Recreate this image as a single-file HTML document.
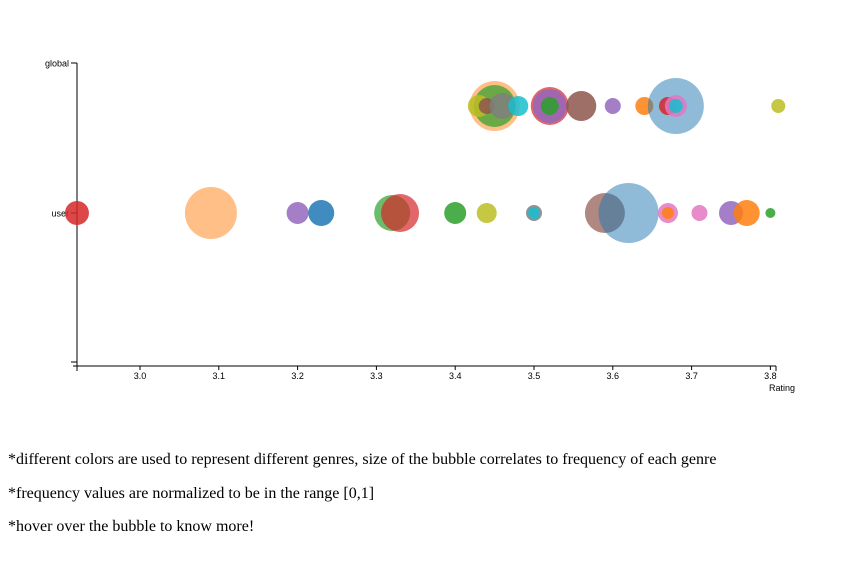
<!DOCTYPE html>
<html><head><meta charset="utf-8"><style>
body{margin:0;background:#fff;width:862px;height:566px;overflow:hidden}
.note{position:absolute;left:8px;font-family:"Liberation Serif",serif;font-size:16px;color:#000}
</style></head><body>
<svg id="chart" width="862" height="420" style="position:absolute;left:0;top:0" font-family="Liberation Sans, sans-serif"></svg>
<div class="note" style="top:451px">*different colors are used to represent different genres, size of the bubble correlates to frequency of each genre</div>
<div class="note" style="top:485px">*frequency values are normalized to be in the range [0,1]</div>
<div class="note" style="top:518px">*hover over the bubble to know more!</div>
<script>
const xTicks=[3.0,3.1,3.2,3.3,3.4,3.5,3.6,3.7,3.8];
const rows=["global","user"];
const userRatings=[2.92,3.09,3.20,3.23,3.32,3.33,3.40,3.44,3.50,3.50,3.59,3.62,3.67,3.67,3.71,3.75,3.77,3.80];
const userSizes=[12,26,11,13,18,19,11,10,8,6,20,30,10,6,8,12,13,5];
const userColors=["#d62728","#ff7f0e","#9467bd","#1f77b4","#2ca02c","#d62728","#2ca02c","#bcbd22","#7f7f7f","#17becf","#8c564b","#1f77b4","#e377c2","#ff7f0e","#e377c2","#9467bd","#ff7f0e","#2ca02c"];
const globalRatings=[3.45,3.45,3.43,3.44,3.46,3.48,3.52,3.52,3.52,3.56,3.60,3.64,3.68,3.67,3.68,3.68,3.81];
const globalSizes=[25,21,11,8,13,10,19,17,9,15,8,9,28,9,11,7,7];
const globalColors=["#ff7f0e","#2ca02c","#bcbd22","#8c564b","#7f7f7f","#17becf","#d62728","#9467bd","#2ca02c","#8c564b","#9467bd","#ff7f0e","#1f77b4","#d62728","#e377c2","#17becf","#bcbd22"];
const NS="http://www.w3.org/2000/svg";
const svg=document.getElementById('chart');
const x=v=>140+(v-3.0)*788;
const yRow={global:106,user:213};
function mk(t,a,p){const e=document.createElementNS(NS,t);for(const k in a)e.setAttribute(k,a[k]);(p||svg).appendChild(e);return e;}
const yAxis=mk('g',{});


mk('line',{x1:77,y1:63,x2:77,y2:366,stroke:'#000'},yAxis);
[["global",63],["user",213]].forEach(([t,yy])=>{
 mk('line',{x1:71,y1:yy,x2:77,y2:yy,stroke:'#000'},yAxis);
 const tx=mk('text',{x:69,y:yy+3.5,'text-anchor':'end','font-size':9},yAxis);tx.textContent=t;
 
 
});
mk('line',{x1:71,y1:362,x2:77,y2:362,stroke:'#000'},yAxis);
const xAxis=mk('g',{});


mk('line',{x1:73,y1:366,x2:776,y2:366,stroke:'#000'},xAxis);
mk('line',{x1:77,y1:366,x2:77,y2:371,stroke:'#000'},xAxis);
mk('line',{x1:776,y1:366,x2:776,y2:371,stroke:'#000'},xAxis);
xTicks.forEach(v=>{
 mk('line',{x1:x(v),y1:366,x2:x(v),y2:370,stroke:'#000'},xAxis);
 const t=mk('text',{x:x(v),y:379,'text-anchor':'middle','font-size':9},xAxis);t.textContent=v.toFixed(1);
 
 
});
const xt=mk('text',{x:769,y:391,'font-size':9},xAxis);xt.textContent='Rating';


function draw(row,r,s,c){
 r.forEach((v,i)=>{
  const op=s[i]>=25?0.5:(s[i]>=18?0.7:0.85);
  const b=mk('circle',{cx:x(v),cy:yRow[row],r:s[i],fill:c[i],'fill-opacity':op});
  
  
 });
}
draw('user',userRatings,userSizes,userColors);
draw('global',globalRatings,globalSizes,globalColors);
</script>
</body></html>
